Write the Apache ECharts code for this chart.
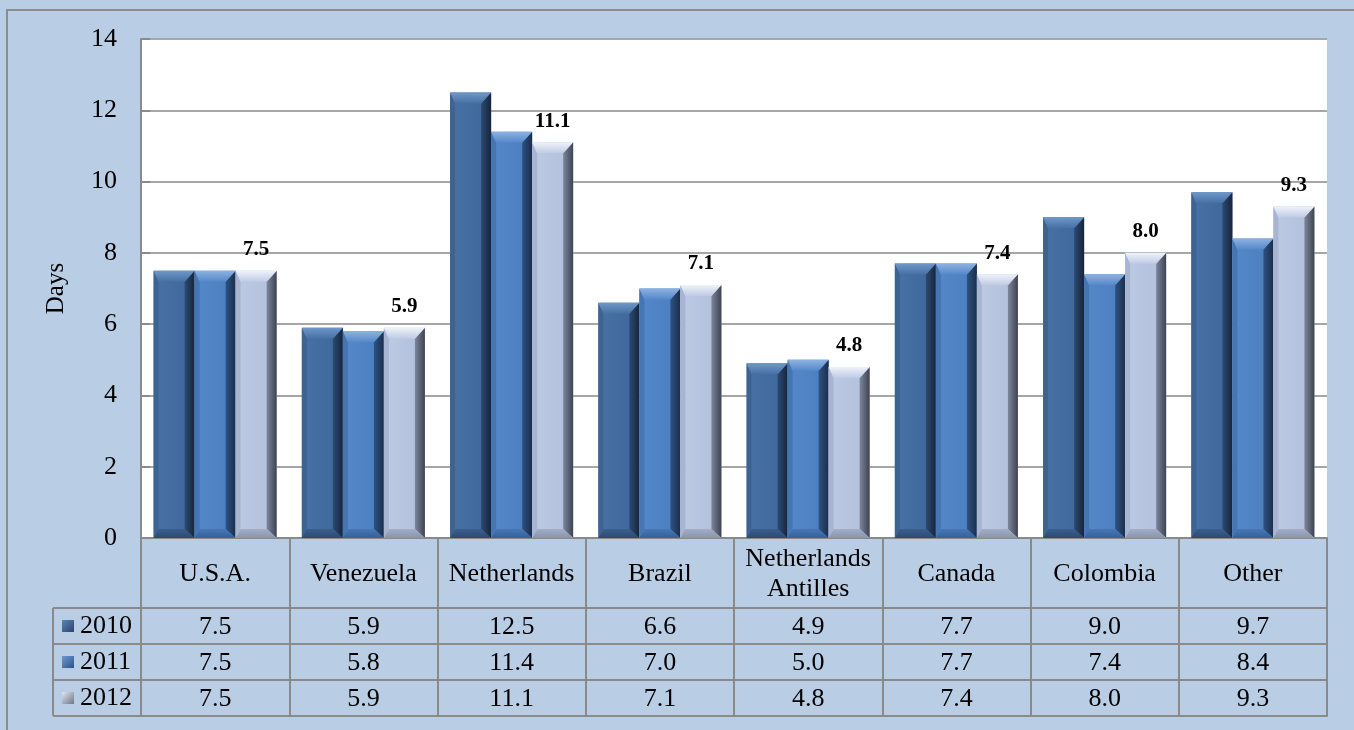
<!DOCTYPE html>
<html>
<head>
<meta charset="utf-8">
<script src="https://cdn.jsdelivr.net/npm/echarts@6/dist/echarts.min.js"></script>
<style>
html,body{margin:0;padding:0;background:#b9cde5;}
#chart{width:1354px;height:730px;}
</style>
</head>
<body>
<div id="chart"></div>
<script>
const categories = ['U.S.A.', 'Venezuela', 'Netherlands', 'Brazil', 'Netherlands\nAntilles', 'Canada', 'Colombia', 'Other'];
const years = ['2010', '2011', '2012'];
const v2010 = [7.5, 5.9, 12.5, 6.6, 4.9, 7.7, 9.0, 9.7];
const v2011 = [7.5, 5.8, 11.4, 7.0, 5.0, 7.7, 7.4, 8.4];
const v2012 = [7.5, 5.9, 11.1, 7.1, 4.8, 7.4, 8.0, 9.3];
const seriesValues = [v2010, v2011, v2012];
const yMin = 0, yMax = 14, yStep = 2;

const FONT = '"Liberation Serif", "Times New Roman", serif';
const LINE = '#8a8a8a';
const FS = 26;

// layout constants
const gridLeft = 141, gridRight = 27, gridTop = 39, gridBottom = 192;
const plotBottomY = 730 - gridBottom;   // 538
const catRowH = 70, rowH = 36;
const headLeft = 53;

const palettes = [
  { body: ['#4871a6', '#3e6699'], top: ['#6f97c9', '#4670a4'], left: '#3d6393', right: ['#2c4a72', '#17253b'], bottom: ['#3a5f8e', '#2b4a72'] },
  { body: ['#5588c8', '#4b7ebf'], top: ['#8db2e2', '#5588c8'], left: '#4575b2', right: ['#2e5283', '#1b2e4a'], bottom: ['#4677b5', '#35609a'] },
  { body: ['#bdcae3', '#b0bfdc'], top: ['#eef2fa', '#bfcbe4'], left: '#a7b5d2', right: ['#7d869c', '#3e4350'], bottom: ['#a2aec8', '#8a94ab'] }
];

function lg(x1, y1, x2, y2, c0, c1) {
  return { type: 'linear', x: x1, y: y1, x2: x2, y2: y2, colorStops: [{ offset: 0, color: c0 }, { offset: 1, color: c1 }] };
}

function makeRender(si, showLabel) {
  const p = palettes[si];
  return function (params, api) {
    const idx = api.value(0), val = api.value(1);
    const c = api.coord([idx, val]);
    const base = api.coord([idx, 0]);
    const band = api.size([1, 0])[0];
    const bw = band * 0.83 / 3;
    const x0 = c[0] - 1.5 * bw + si * bw, x1 = x0 + bw;
    const y0 = c[1], y1 = base[1];
    const h = y1 - y0;
    const bt = Math.min(11, h / 2), bb = Math.min(9, h / 2), bl = 5, br = 10;
    const children = [
      { type: 'rect', shape: { x: x0, y: y0, width: bw, height: h }, style: { fill: lg(0, 0, 1, 0, p.body[0], p.body[1]) } },
      { type: 'polygon', shape: { points: [[x0, y0], [x0 + bl, y0 + bt], [x0 + bl, y1 - bb], [x0, y1]] }, style: { fill: p.left } },
      { type: 'polygon', shape: { points: [[x1, y0], [x1 - br, y0 + bt], [x1 - br, y1 - bb], [x1, y1]] }, style: { fill: lg(0, 0, 1, 0, p.right[0], p.right[1]) } },
      { type: 'polygon', shape: { points: [[x0, y0], [x1, y0], [x1 - br, y0 + bt], [x0 + bl, y0 + bt]] }, style: { fill: lg(0, 0, 0, 1, p.top[0], p.top[1]) } },
      { type: 'polygon', shape: { points: [[x0, y1], [x0 + bl, y1 - bb], [x1 - br, y1 - bb], [x1, y1]] }, style: { fill: lg(0, 0, 0, 1, p.bottom[0], p.bottom[1]) } }
    ];
    if (showLabel) {
      children.push({
        type: 'text',
        style: { text: val.toFixed(1), x: (x0 + x1) / 2, y: y0 - 21, align: 'center', verticalAlign: 'middle', fontFamily: FONT, fontWeight: 'bold', fontSize: 21, fill: '#000' }
      });
    }
    return { type: 'group', children: children };
  };
}

const chart = echarts.init(document.getElementById('chart'), null, { renderer: 'canvas' });

const xAxes = [{
  type: 'category', data: categories, gridIndex: 0, position: 'bottom',
  axisLine: { show: true, lineStyle: { color: LINE, width: 2 } },
  axisTick: { show: true, length: catRowH, lineStyle: { color: LINE, width: 2 } },
  axisLabel: { interval: 0, margin: 36, verticalAlign: 'middle', fontFamily: FONT, fontSize: FS, lineHeight: 30, color: '#000' },
  splitLine: { show: false }
}];
seriesValues.forEach(function (vals, k) {
  xAxes.push({
    type: 'category', data: vals.map(function (v) { return v.toFixed(1); }), gridIndex: 0, position: 'bottom', offset: catRowH + k * rowH,
    axisLine: { show: true, lineStyle: { color: LINE, width: 2 } },
    axisTick: { show: true, length: rowH, lineStyle: { color: LINE, width: 2 } },
    axisLabel: { interval: 0, margin: rowH / 2 + 1, verticalAlign: 'middle', fontFamily: FONT, fontSize: FS, color: '#000' },
    splitLine: { show: false }
  });
});
xAxes.push({
  type: 'category', data: categories, gridIndex: 0, position: 'bottom', offset: catRowH + 3 * rowH,
  axisLine: { show: true, lineStyle: { color: LINE, width: 2 } },
  axisTick: { show: false }, axisLabel: { show: false }, splitLine: { show: false }
});

const headLines = [];
for (let k = 0; k <= 3; k++) {
  const y = plotBottomY + catRowH + k * rowH;
  headLines.push({ type: 'line', shape: { x1: headLeft, y1: y, x2: gridLeft, y2: y }, style: { stroke: LINE, lineWidth: 2 } });
}
headLines.push({ type: 'line', shape: { x1: headLeft, y1: plotBottomY + catRowH, x2: headLeft, y2: plotBottomY + catRowH + 3 * rowH }, style: { stroke: LINE, lineWidth: 2 } });
headLines.push({ type: 'line', shape: { x1: gridLeft, y1: plotBottomY, x2: gridLeft, y2: plotBottomY + catRowH + 3 * rowH }, style: { stroke: LINE, lineWidth: 2 } });

const legendColors = [lg(0, 0, 1, 1, '#5a84b8', '#2a4569'), lg(0, 0, 1, 1, '#6b9ad6', '#2e5283'), lg(0, 0, 1, 1, '#dde4f2', '#6f7788')];

chart.setOption({
  backgroundColor: '#b9cde5',
  animation: false,
  grid: { left: gridLeft, right: gridRight, top: gridTop, bottom: gridBottom, show: true, backgroundColor: '#ffffff', borderWidth: 0 },
  legend: {
    data: years, orient: 'vertical', left: 62, top: plotBottomY + catRowH + 5, padding: 0,
    itemWidth: 12, itemHeight: 12, itemGap: 10, icon: 'rect',
    textStyle: { fontFamily: FONT, fontSize: FS, lineHeight: 26, color: '#000', padding: [0, 0, 0, 1] },
    selectedMode: false
  },
  xAxis: xAxes,
  yAxis: {
    type: 'value', min: yMin, max: yMax, interval: yStep,
    name: 'Days', nameLocation: 'middle', nameRotate: 90, nameGap: 72,
    nameTextStyle: { fontFamily: FONT, fontSize: 25, color: '#000' },
    axisLine: { show: true, lineStyle: { color: LINE, width: 2 } },
    axisTick: { show: true, inside: true, length: 9, lineStyle: { color: LINE, width: 2 } },
    axisLabel: { margin: 24, fontFamily: FONT, fontSize: FS, color: '#000' },
    splitLine: { show: true, lineStyle: { color: '#a6a6a6', width: 2 } }
  },
  graphic: [
    { type: 'rect', shape: { x: 7, y: 10, width: 1500, height: 900 }, style: { fill: null, stroke: '#8c8c8c', lineWidth: 2 }, z: 100 }
  ].concat(headLines),
  series: seriesValues.map(function (vals, si) {
    return {
      type: 'custom', name: years[si], xAxisIndex: 0, yAxisIndex: 0,
      itemStyle: { color: legendColors[si] },
      renderItem: makeRender(si, si === 2),
      encode: { x: 0, y: 1 },
      data: vals.map(function (v, i) { return [i, v]; }),
      z: 3
    };
  })
});
</script>
</body>
</html>
